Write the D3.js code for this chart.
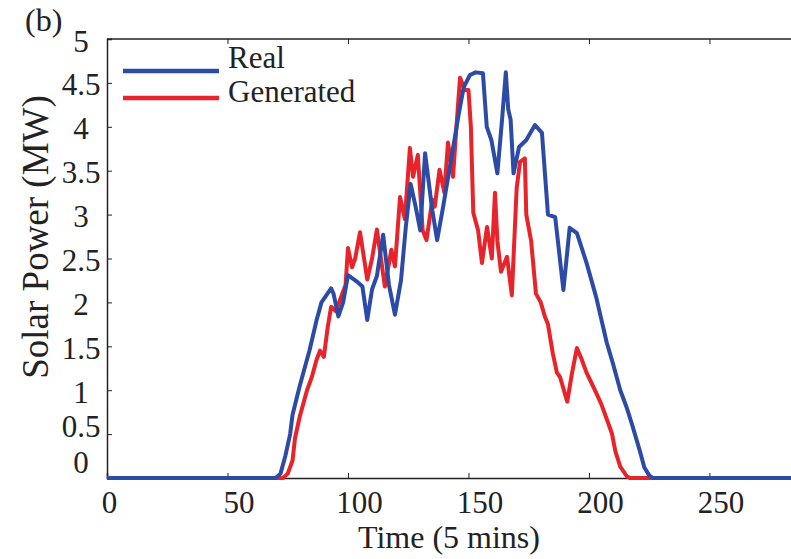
<!DOCTYPE html>
<html>
<head>
<meta charset="utf-8">
<script src="https://cdn.jsdelivr.net/npm/d3@7"></script>
<style>
  body { margin: 0; background: #fff; }
  text { font-family: "Liberation Serif", "DejaVu Serif", serif; fill: #222; }
</style>
</head>
<body>
<script>
// time steps (5 min each) and power (MW)
var realTime = [0, 70, 72, 74, 76, 77, 80, 84, 87, 89, 91, 93, 94, 96, 98, 100, 102, 104, 106, 108, 110, 112, 114.6, 117, 119.5, 122, 124, 126, 128, 130, 132, 135, 137, 139.5, 143.5, 146, 148, 150.6, 153, 156, 157.6, 159.5, 162, 164, 165.5, 166.5, 167.5, 168.7, 171, 174, 177.6, 180.5, 183, 186, 189.4, 192, 195, 199, 203, 207.4, 210, 213, 215.7, 218, 221, 223, 225, 226.5, 288];
var realPower = [0, 0, 0.05, 0.25, 0.5, 0.72, 1.05, 1.45, 1.8, 2.0, 2.08, 2.16, 2.1, 1.84, 2.0, 2.31, 2.27, 2.23, 2.18, 1.8, 2.15, 2.3, 2.77, 2.2, 1.86, 2.25, 2.86, 3.35, 3.1, 2.82, 3.7, 3.05, 2.71, 3.09, 3.74, 4.15, 4.45, 4.59, 4.62, 4.61, 4.0, 3.85, 3.47, 4.1, 4.62, 4.2, 4.08, 3.47, 3.77, 3.85, 4.02, 3.93, 3.0, 2.97, 2.14, 2.85, 2.79, 2.45, 2.06, 1.54, 1.3, 1.0, 0.8, 0.6, 0.32, 0.12, 0.03, 0, 0];

var genTime = [0, 73, 75, 77, 78, 80, 81.5, 83, 85, 87, 88.4, 90, 91.5, 93, 95, 97, 99, 100, 101.7, 103, 105, 108, 110, 112, 115.3, 118, 119.5, 121.6, 123.6, 125.7, 127, 129, 131, 132.6, 135, 136, 138, 140, 141.5, 143.6, 145, 146.5, 148.5, 150, 151, 152, 154, 155.6, 157.7, 159.7, 161, 162, 163.5, 166, 168, 170, 171.4, 173.4, 174, 176, 178, 180, 181.7, 183, 185, 186.7, 188, 191, 193, 195, 197, 199, 200.4, 203, 205, 207, 209.5, 211, 213, 215.7, 217, 288];
var genPower = [0, 0, 0.05, 0.2, 0.45, 0.7, 0.85, 1.0, 1.15, 1.35, 1.45, 1.38, 1.7, 1.95, 1.9, 2.05, 2.2, 2.62, 2.4, 2.5, 2.8, 2.26, 2.5, 2.83, 2.18, 2.6, 2.41, 3.2, 2.95, 3.76, 3.43, 3.68, 2.82, 2.71, 3.17, 3.09, 3.51, 3.25, 3.82, 3.43, 4.0, 4.56, 4.42, 4.42, 4.0, 3.02, 2.82, 2.45, 2.86, 2.5, 3.25, 2.7, 2.35, 2.52, 2.08, 3.3, 3.6, 3.64, 3.0, 2.7, 2.1, 2.0, 1.84, 1.75, 1.42, 1.2, 1.15, 0.87, 1.2, 1.48, 1.35, 1.2, 1.12, 0.97, 0.85, 0.7, 0.51, 0.3, 0.13, 0.02, 0, 0];

var xTicks = [0, 50, 100, 150, 200, 250];
var yTicks = [0, 0.5, 1, 1.5, 2, 2.5, 3, 3.5, 4, 4.5, 5];
var seriesNames = ["Real", "Generated"];
var seriesColors = ["#2c4ba6", "#e8232a"];

var width = 791, height = 559;
var plotLeft = 107, plotTop = 39, plotBottom = 478, plotRight = 801;

var svg = d3.select("body").append("svg")
    .attr("width", width)
    .attr("height", height);

var x = d3.scaleLinear().domain([0, 288]).range([plotLeft, plotRight]);
var y = d3.scaleLinear().domain([0, 5]).range([plotBottom, plotTop]);

// frame (top line + left line), ticks point inward
svg.append("line").attr("x1", plotLeft).attr("x2", plotRight).attr("y1", plotTop).attr("y2", plotTop)
    .attr("stroke", "#222").attr("stroke-width", 1.5);

var xAxis = svg.append("g")
    .attr("transform", "translate(0," + plotBottom + ")")
    .call(d3.axisBottom(x).tickValues(xTicks).tickSize(-5).tickPadding(13).tickFormat(d3.format("d")));
xAxis.select(".domain").attr("stroke", "#222").attr("stroke-width", 1.5);
xAxis.selectAll(".tick line").attr("stroke", "#222");
xAxis.selectAll("text")
    .attr("font-size", 31)
    .attr("dx", function(d) { return d === 0 ? 2 : 11; })
    .style("font-family", "Liberation Serif").attr("fill", "#222");

var xTop = svg.append("g")
    .attr("transform", "translate(0," + plotTop + ")")
    .call(d3.axisTop(x).tickValues(xTicks).tickSize(-5).tickFormat(""));
xTop.select(".domain").remove();
xTop.selectAll(".tick line").attr("stroke", "#222");

var yAxis = svg.append("g")
    .attr("transform", "translate(" + plotLeft + ",0)")
    .call(d3.axisLeft(y).tickValues(yTicks).tickSize(-5).tickFormat(d3.format("")));
yAxis.select(".domain").attr("stroke", "#222").attr("stroke-width", 1.5);
yAxis.selectAll(".tick line").attr("stroke", "#222");
yAxis.selectAll("text")
    .attr("font-size", 31)
    .attr("text-anchor", "middle")
    .attr("x", -26)
    .attr("dy", function(d) { return d === 0 ? -6 : d === 0.5 ? 2 : 12; })
    .style("font-family", "Liberation Serif").attr("fill", "#222");

// lines
var line = d3.line()
    .x(function(d) { return x(d[0]); })
    .y(function(d) { return y(d[1]); });

var realData = d3.zip(realTime, realPower);
var genData = d3.zip(genTime, genPower);

svg.append("path").datum(genData)
    .attr("d", line)
    .attr("fill", "none")
    .attr("stroke", seriesColors[1])
    .attr("stroke-width", 4)
    .attr("stroke-linejoin", "round");

svg.append("path").datum(realData)
    .attr("d", line)
    .attr("fill", "none")
    .attr("stroke", seriesColors[0])
    .attr("stroke-width", 4)
    .attr("stroke-linejoin", "round");

// legend
var legend = svg.append("g").selectAll("g")
    .data(seriesNames)
    .enter().append("g");
legend.append("line")
    .attr("x1", 123).attr("x2", 219)
    .attr("y1", function(d, i) { return 71 + i * 27; })
    .attr("y2", function(d, i) { return 71 + i * 27; })
    .attr("stroke", function(d, i) { return seriesColors[i]; })
    .attr("stroke-width", 4.5);
legend.append("text")
    .attr("x", 228)
    .attr("y", function(d, i) { return 68 + i * 34; })
    .attr("font-size", 31)
    .text(function(d) { return d; });

// labels
svg.append("text")
    .attr("x", 449).attr("y", 548)
    .attr("text-anchor", "middle")
    .attr("font-size", 32)
    .text("Time (5 mins)");

svg.append("text")
    .attr("transform", "translate(48,237) rotate(-90)")
    .attr("text-anchor", "middle")
    .attr("font-size", 37)
    .text("Solar Power (MW)");

svg.append("text")
    .attr("x", 25).attr("y", 31)
    .attr("font-size", 32)
    .text("(b)");
</script>
</body>
</html>
